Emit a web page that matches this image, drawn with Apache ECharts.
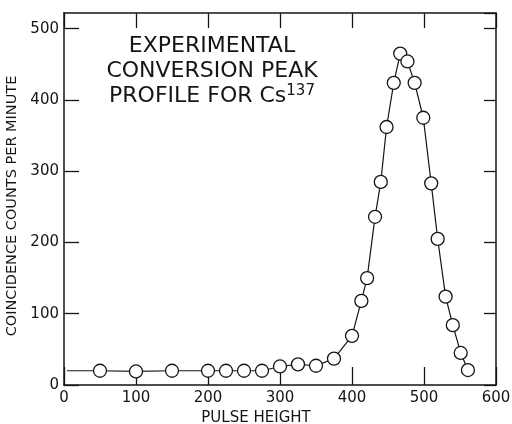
<!DOCTYPE html>
<html>
<head>
<meta charset="utf-8">
<script src="https://cdn.jsdelivr.net/npm/echarts@6/dist/echarts.min.js"></script>
<style>
  html, body { margin: 0; padding: 0; background: #fff; }
  #chart { width: 512px; height: 424px; }
</style>
</head>
<body>
<div id="chart"></div>
<script>
// pulse height / counts
const pulseHeight = [50, 100, 150, 200, 225, 250, 275, 300, 325, 350, 375, 400, 413, 421, 432, 440, 448, 458, 467, 477, 487, 499, 510, 519, 530, 540, 551, 561]
const counts = [20, 19, 20, 20, 20, 20, 20, 26, 29, 27, 37, 69, 118, 150, 236, 285, 362, 424, 465, 454, 424, 375, 283, 205, 124, 84, 45, 21]
// the curve starts at the left edge, level with the first points
const lineStart = [4, 20]
const xTicks = [0, 100, 200, 300, 400, 500, 600]
const yTicks = [0, 100, 200, 300, 400, 500]

const ink = '#151515'
const font = 'DejaVu Sans'

const points = [{ value: lineStart, symbol: 'none' }]
  .concat(pulseHeight.map((x, i) => [x, counts[i]]))

const chart = echarts.init(document.getElementById('chart'))

const frameAxis = (extra) => Object.assign({
  type: 'value',
  axisLine: { show: true, onZero: false, lineStyle: { color: ink, width: 1.5 } },
  axisTick: { show: true, inside: true, length: 15, lineStyle: { color: ink, width: 1.3 } },
  splitLine: { show: false },
  axisLabel: { show: false }
}, extra)

chart.setOption({
  animation: false,
  grid: { left: 64, right: 16, top: 13, bottom: 39, containLabel: false, outerBoundsMode: 'none' },
  xAxis: [
    frameAxis({
      position: 'bottom',
      min: xTicks[0],
      max: xTicks[xTicks.length - 1],
      interval: 100,
      axisTick: { show: true, inside: true, length: 18, lineStyle: { color: ink, width: 1.3 } },
      axisLabel: { show: true, color: ink, fontFamily: font, fontSize: 15, margin: 6 },
      name: 'PULSE HEIGHT',
      nameLocation: 'middle',
      nameGap: 22,
      nameTextStyle: { color: ink, fontFamily: font, fontSize: 15, padding: [0, 48, 0, 0] }
    }),
    frameAxis({
      position: 'top',
      min: xTicks[0],
      max: xTicks[xTicks.length - 1],
      interval: 100
    })
  ],
  yAxis: [
    frameAxis({
      position: 'left',
      min: yTicks[0],
      max: 522,
      interval: 100,
      axisLabel: { show: true, color: ink, fontFamily: font, fontSize: 15, margin: 5, showMaxLabel: false },
      name: 'COINCIDENCE COUNTS PER MINUTE',
      nameLocation: 'middle',
      nameGap: 33,
      nameTextStyle: { color: ink, fontFamily: font, fontSize: 14.5, padding: [0, 14, 0, 0] }
    }),
    frameAxis({
      position: 'right',
      min: yTicks[0],
      max: 522,
      interval: 100,
      axisTick: { show: true, inside: true, length: 12, lineStyle: { color: ink, width: 1.3 } }
    })
  ],
  series: [{
    type: 'line',
    data: points,
    symbol: 'circle',
    symbolSize: 13,
    showSymbol: true,
    itemStyle: { color: '#fff', borderColor: ink, borderWidth: 1.3 },
    lineStyle: { color: ink, width: 1.2 },
    z: 3
  }],
  graphic: [{
    type: 'text',
    style: {
      x: 212,
      y: 34,
      text: 'EXPERIMENTAL\nCONVERSION PEAK\nPROFILE FOR Cs{sup|137}',
      align: 'center',
      fill: ink,
      font: '22px "DejaVu Sans"',
      lineHeight: 25,
      rich: {
        sup: { fontSize: 15, fontFamily: font, fill: ink, padding: [0, 0, 10, 0] }
      }
    }
  }]
})
</script>
</body>
</html>
